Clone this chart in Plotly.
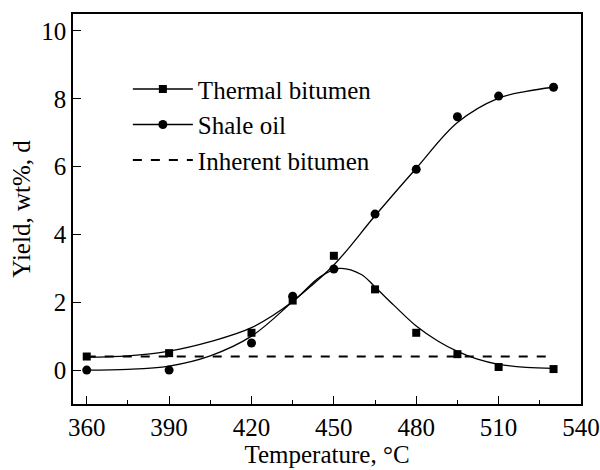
import plotly.graph_objects as go

# Measured points
temp = [360, 390, 420, 435, 450, 465, 480, 495, 510, 530]
thermal_bitumen = [0.40, 0.50, 1.10, 2.05, 3.37, 2.38, 1.10, 0.47, 0.09, 0.03]
shale_oil = [0.00, 0.00, 0.80, 2.18, 2.98, 4.60, 5.92, 7.47, 8.08, 8.34]

# Fitted curves
fit_t_x = [360, 375, 390, 405, 420, 435, 445, 452, 460, 465, 472, 480, 488, 495, 502, 510, 520, 530]
fit_t_y = [0.38, 0.42, 0.56, 0.84, 1.25, 2.02, 2.75, 3.00, 2.82, 2.45, 1.90, 1.30, 0.85, 0.55, 0.33, 0.17, 0.08, 0.05]
fit_s_x = [360, 375, 390, 405, 420, 435, 450, 465, 480, 495, 510, 520, 530]
fit_s_y = [0.00, 0.02, 0.12, 0.42, 1.00, 2.02, 3.10, 4.55, 5.95, 7.30, 8.02, 8.22, 8.34]

inherent_x = [360, 530]
inherent_y = [0.40, 0.40]

font = "Liberation Serif, Times New Roman, serif"
FS = 25

fig = go.Figure()
fig.add_trace(go.Scatter(x=fit_t_x, y=fit_t_y, mode="lines", line=dict(color="black", width=1.3, shape="spline"), showlegend=False))
fig.add_trace(go.Scatter(x=fit_s_x, y=fit_s_y, mode="lines", line=dict(color="black", width=1.3, shape="spline"), showlegend=False))
fig.add_trace(go.Scatter(x=inherent_x, y=inherent_y, mode="lines", line=dict(color="black", width=1.8, dash="dash"), showlegend=False))
fig.add_trace(go.Scatter(x=temp, y=thermal_bitumen, mode="markers", marker=dict(symbol="square", size=8, color="black"), showlegend=False))
fig.add_trace(go.Scatter(x=temp, y=shale_oil, mode="markers", marker=dict(symbol="circle", size=9, color="black"), showlegend=False))

# legend entries
fig.add_trace(go.Scatter(x=[None], y=[None], mode="lines+markers", name="Thermal bitumen",
                         line=dict(color="black", width=1.3), marker=dict(symbol="square", size=8, color="black")))
fig.add_trace(go.Scatter(x=[None], y=[None], mode="lines+markers", name="Shale oil",
                         line=dict(color="black", width=1.3), marker=dict(symbol="circle", size=9, color="black")))
fig.add_trace(go.Scatter(x=[None], y=[None], mode="lines", name="Inherent bitumen",
                         line=dict(color="black", width=1.8, dash="dash")))

fig.update_layout(
    width=600, height=470,
    margin=dict(l=73, r=19, t=14, b=66),
    paper_bgcolor="white", plot_bgcolor="white",
    font=dict(family=font, size=FS, color="black"),
    legend=dict(x=0.108, y=0.716, xanchor="left", yanchor="middle", bgcolor="rgba(0,0,0,0)",
                font=dict(family=font, size=FS), tracegroupgap=0, itemwidth=60),
    showlegend=True,
)
fig.update_xaxes(
    range=[355, 540], tickmode="array", tickvals=[360, 390, 420, 450, 480, 510, 540],
    ticks="inside", ticklen=8, tickwidth=1.3, tickcolor="black", automargin=False,
    minor=dict(tickvals=[375, 405, 435, 465, 495, 525], ticks="inside", ticklen=4, tickwidth=1.3, tickcolor="black"),
    showline=True, linecolor="black", linewidth=1.5, mirror=True, showgrid=False, zeroline=False,
    title=dict(text="Temperature, °C", font=dict(family=font, size=FS), standoff=2),
)
fig.update_yaxes(
    range=[-1, 10.5], tickmode="array", tickvals=[0, 2, 4, 6, 8, 10], automargin=False,
    ticks="inside", ticklen=8, tickwidth=1.3, tickcolor="black",
    showline=True, linecolor="black", linewidth=1.5, mirror=True, showgrid=False, zeroline=False,
    title=dict(text="Yield, wt%, d", font=dict(family=font, size=FS), standoff=4),
)
fig.write_html("out.html")
